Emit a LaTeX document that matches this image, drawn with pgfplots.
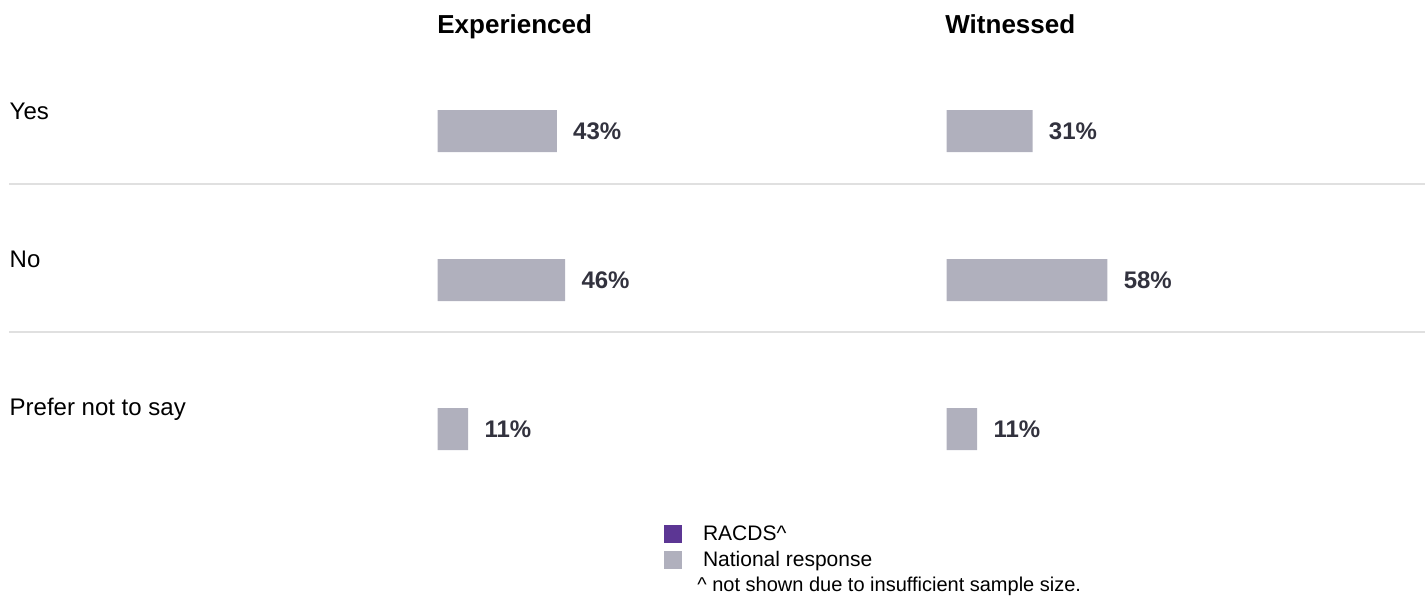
\documentclass[border=0pt]{standalone}
\usepackage{fontspec}
\setmainfont{Liberation Sans}
\usepackage{pgfplots}
\pgfplotsset{compat=1.18}
\definecolor{barnat}{RGB}{176,176,189}
\definecolor{racds}{RGB}{92,54,148}
\definecolor{valtxt}{RGB}{50,50,62}
\definecolor{sepcol}{RGB}{224,224,224}
\begin{document}
\begin{tikzpicture}
% base axis in pixel units for separators, labels and legend
\begin{axis}[at={(0pt,0pt)}, anchor=south west, width=712.5pt, height=297.5pt, scale only axis,
  xmin=0, xmax=1425, ymin=0, ymax=595, y dir=reverse, hide axis, clip=false,
  legend style={at={(axis cs:664,521.5)}, anchor=north west, draw=none, fill=none,
    inner sep=0pt, outer sep=0pt, font=\fontsize{10.5}{12}\selectfont, row sep=0pt,
    /tikz/every odd column/.append style={column sep=8.5pt}},
  legend cell align=left,
  legend image code/.code={\fill[#1] (0pt,-4.5pt) rectangle (9pt,4.5pt);}]
\addlegendimage{fill=racds, draw=none}
\addlegendentry{RACDS\textasciicircum}
\addlegendimage{fill=barnat, draw=none}
\addlegendentry{National response}
\addplot[sepcol, line width=1pt, forget plot] coordinates {(9,183.5) (1425,183.5)};
\addplot[sepcol, line width=1pt, forget plot] coordinates {(9,331.5) (1425,331.5)};
\node[anchor=base west, inner sep=0pt, font=\fontsize{13}{15}\selectfont\bfseries] at (axis cs:437,33.3) {Experienced};
\node[anchor=base west, inner sep=0pt, font=\fontsize{13}{15}\selectfont\bfseries] at (axis cs:945,33.3) {Witnessed};
\node[anchor=base west, inner sep=0pt, font=\fontsize{12}{14}\selectfont] at (axis cs:9.3,119.5) {Yes};
\node[anchor=base west, inner sep=0pt, font=\fontsize{12}{14}\selectfont] at (axis cs:9.3,267.3) {No};
\node[anchor=base west, inner sep=0pt, font=\fontsize{12}{14}\selectfont] at (axis cs:9.3,415) {Prefer not to say};
\node[anchor=base west, inner sep=0pt, font=\fontsize{10}{12}\selectfont] at (axis cs:697,591.5) {\textasciicircum{} not shown due to insufficient sample size.};
\end{axis}
% Experienced
\begin{axis}[at={(218.85pt,0pt)}, anchor=south west, width=138.5pt, height=297.5pt, scale only axis,
  xmin=0, xmax=100, ymin=0, ymax=595, y dir=reverse, hide axis, clip=false,
  xbar, bar width=42, /pgf/number format/assume math mode=true,
  point meta=x, nodes near coords={\pgfmathprintnumber{\pgfplotspointmeta}\%},
  every node near coord/.append style={anchor=west, inner sep=0pt, xshift=8pt,
    font=\fontsize{12}{14}\selectfont\bfseries, text=valtxt}]
\addplot[fill=barnat, draw=none] coordinates {(43,131) (46,280) (11,429)};
\end{axis}
% Witnessed
\begin{axis}[at={(473.35pt,0pt)}, anchor=south west, width=138.5pt, height=297.5pt, scale only axis,
  xmin=0, xmax=100, ymin=0, ymax=595, y dir=reverse, hide axis, clip=false,
  xbar, bar width=42, /pgf/number format/assume math mode=true,
  point meta=x, nodes near coords={\pgfmathprintnumber{\pgfplotspointmeta}\%},
  every node near coord/.append style={anchor=west, inner sep=0pt, xshift=8pt,
    font=\fontsize{12}{14}\selectfont\bfseries, text=valtxt}]
\addplot[fill=barnat, draw=none] coordinates {(31,131) (58,280) (11,429)};
\end{axis}
\pgfresetboundingbox
\useasboundingbox (0pt,0pt) rectangle (712.5pt,297.5pt);
\end{tikzpicture}
\end{document}
